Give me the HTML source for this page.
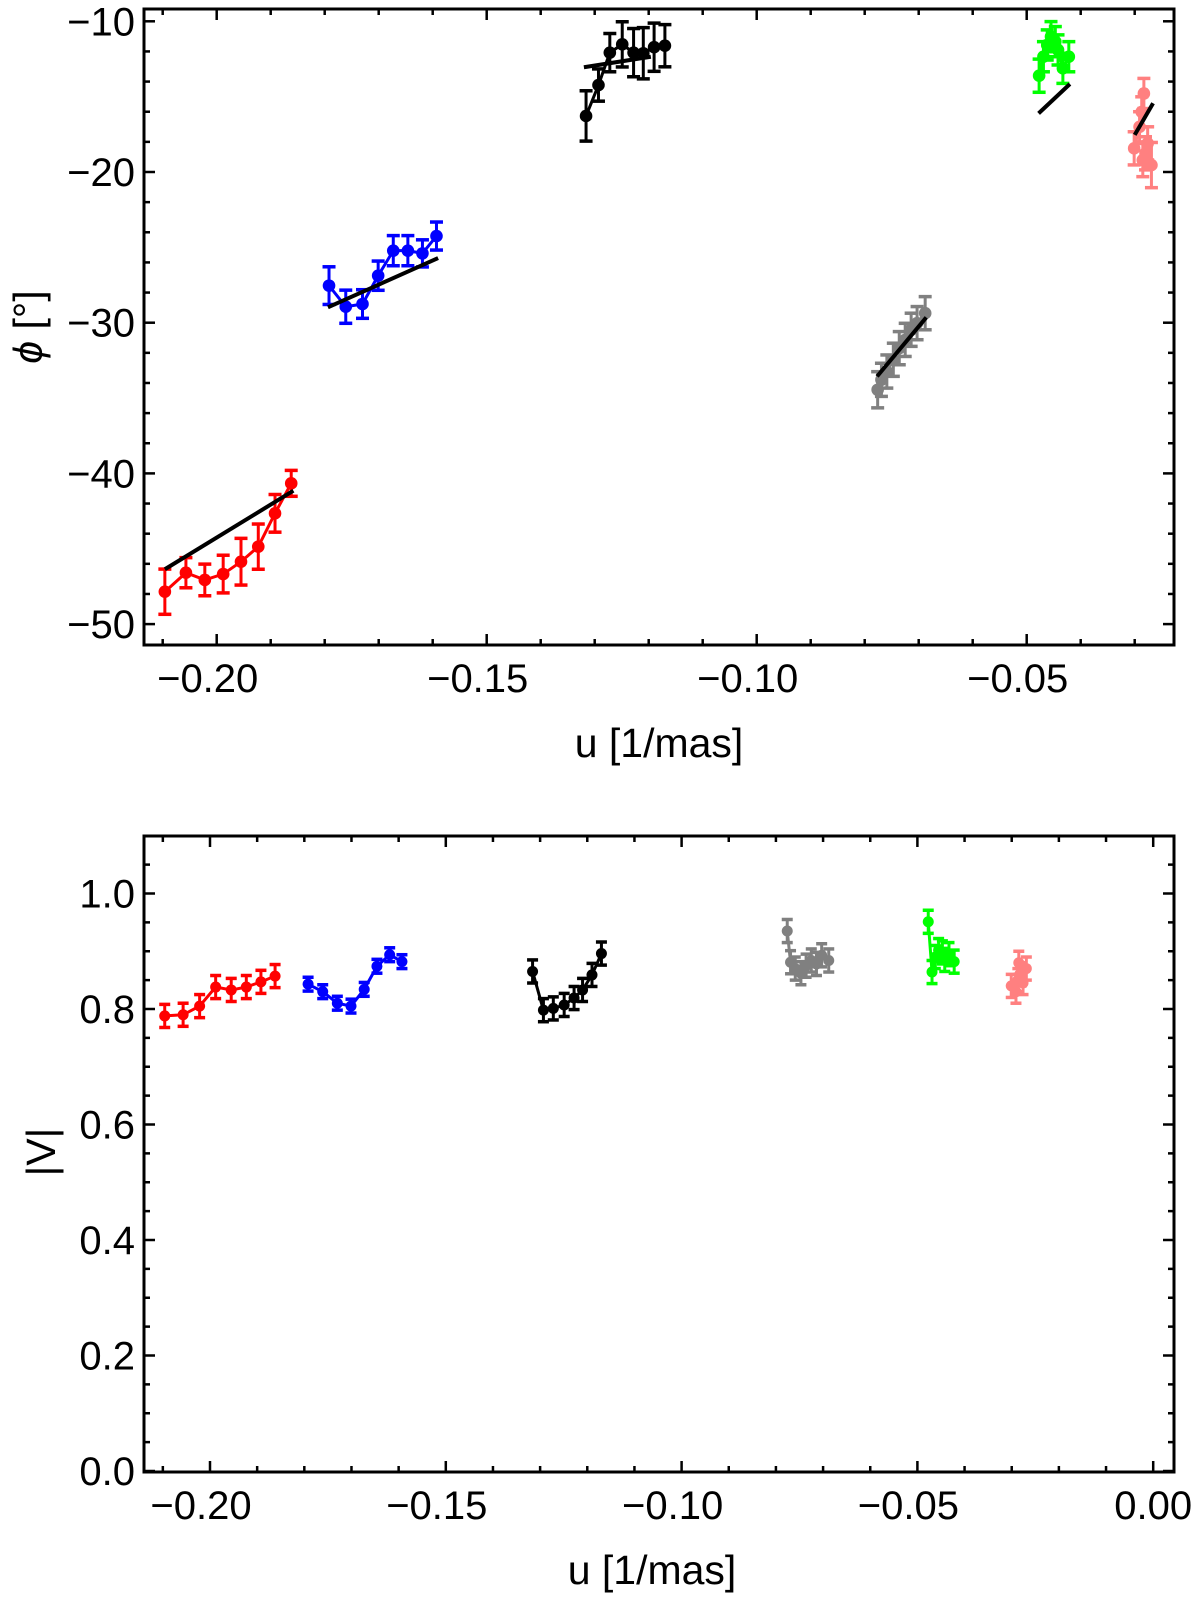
<!DOCTYPE html>
<html><head><meta charset="utf-8"><style>
html,body{margin:0;padding:0;background:#fff;}
svg{display:block;}
text{font-family:"Liberation Sans",sans-serif;fill:#000;}
</style></head><body>
<svg id="fig" width="1200" height="1599" viewBox="0 0 1200 1599" xmlns="http://www.w3.org/2000/svg"></svg>
<script>
// ---- data ----
const uRed   = [-0.2096,-0.2057,-0.2022,-0.1988,-0.1955,-0.1923,-0.1892,-0.1862];
const uBlue  = [-0.1792,-0.1761,-0.1730,-0.1701,-0.1673,-0.1646,-0.1619,-0.1593];
const uBlack = [-0.1316,-0.1293,-0.1272,-0.1249,-0.1228,-0.1210,-0.1190,-0.1170];
const uGrey  = [-0.0776,-0.0769,-0.0759,-0.0747,-0.0736,-0.0725,-0.0714,-0.0703,-0.0688];
const uGreen = [-0.0477,-0.0469,-0.0462,-0.0455,-0.0447,-0.0442,-0.0433,-0.0422];
const uPink  = [-0.0283,-0.0287,-0.0291,-0.0301,-0.0280,-0.0285,-0.0269,-0.0276];

const phiRed   = [-47.85,-46.59,-47.07,-46.68,-45.86,-44.86,-42.65,-40.66];
const phiRedErr= [1.5,1.0,1.05,1.25,1.55,1.5,1.25,0.86];
const phiBlue  = [-27.54,-28.94,-28.76,-26.88,-25.22,-25.22,-25.40,-24.25];
const phiBlueErr=[1.25,1.1,0.95,0.97,1.0,1.0,0.9,0.93];
const phiBlack = [-16.28,-14.23,-12.08,-11.53,-12.08,-12.12,-11.72,-11.62];
const phiBlackErr=[1.67,1.07,1.27,1.5,1.6,1.7,1.6,1.4];
const phiGrey  = [-34.45,-33.79,-33.24,-32.46,-31.69,-31.14,-30.47,-30.03,-29.37];
const phiGreyErr=[1.2,1.1,1.1,1.1,1.1,1.1,1.1,1.1,1.1];
const phiGreen = [-13.61,-12.35,-11.57,-11.02,-11.35,-11.90,-13.12,-12.35];
const phiGreenErr=[1.1,1.0,1.0,1.0,1.0,1.0,1.0,1.0];
const phiPink  = [-14.79,-16.01,-17.00,-18.43,-18.76,-19.21,-19.54,-18.10];
const phiPinkErr=[1.0,1.0,1.0,1.1,1.1,1.1,1.5,1.1];

// linear fits (u0,phi0,u1,phi1)
const fitRed   = [-0.2096,-46.36,-0.1858,-41.15];
const fitBlue  = [-0.1794,-28.98,-0.1590,-25.71];
const fitBlack = [-0.1320,-13.05,-0.1196,-12.35];
const fitGrey  = [-0.0777,-33.56,-0.0686,-29.65];
const fitGreen = [-0.0478,-16.11,-0.0420,-14.16];
const fitPink  = [-0.0300,-17.54,-0.0266,-15.44];

const visRed   = [0.788,0.790,0.805,0.838,0.833,0.838,0.847,0.857];
const visBlue  = [0.843,0.830,0.810,0.805,0.834,0.874,0.894,0.882];
const visBlack = [0.865,0.798,0.801,0.807,0.819,0.833,0.859,0.896];
const visGrey  = [0.935,0.881,0.870,0.862,0.875,0.884,0.878,0.893,0.884];
const visGreen = [0.951,0.864,0.890,0.902,0.898,0.885,0.895,0.882];
const visPink  = [0.860,0.850,0.830,0.840,0.860,0.880,0.870,0.845];
const visErr = 0.02;

const topXTicks = [-0.20,-0.15,-0.10,-0.05];
const topXTickLabels = ["\u22120.20","\u22120.15","\u22120.10","\u22120.05"];
const topYTicks = [-10,-20,-30,-40,-50];
const topYTickLabels = ["\u221210","\u221220","\u221230","\u221240","\u221250"];
const botXTicks = [-0.20,-0.15,-0.10,-0.05,0.00];
const botXTickLabels = ["\u22120.20","\u22120.15","\u22120.10","\u22120.05","0.00"];
const botYTicks = [0,0.2,0.4,0.6,0.8,1.0];
const botYTickLabels = ["0.0","0.2","0.4","0.6","0.8","1.0"];

// ---- layout ----
const NS="http://www.w3.org/2000/svg";
const svg=document.getElementById('fig');
function mk(tag,attrs,parent){const e=document.createElementNS(NS,tag);for(const k in attrs)e.setAttribute(k,attrs[k]);(parent||svg).appendChild(e);return e;}

const L=144,R=1174;
// top panel
const T1=9,B1=645;
const xT=u=>216.7+(u+0.20)*5400;
const yT=v=>21.3+(-10-v)*15.07;
// bottom panel
const T2=836,B2=1472;
const xB=u=>210+(u+0.20)*4716;
const yB=v=>1471-v*577.5;

function frame(top,bottom,name){
  const r=mk('rect',{x:L,y:top,width:R-L,height:bottom-top,fill:'none',stroke:'#000','stroke-width':3});
  
  
}
function xticks(xf,top,bottom,umin,umax,majors,labels,name,labelY){
  const g=mk('g',{});
  
  
  for(let k=Math.ceil(umin*100-1e-6);k<=Math.floor(umax*100+1e-6);k++){
    const u=k/100,x=xf(u),maj=(k%5===0);const len=maj?11:6;
    mk('line',{x1:x,x2:x,y1:bottom,y2:bottom-len,stroke:'#000','stroke-width':2.5},g);
    mk('line',{x1:x,x2:x,y1:top,y2:top+len,stroke:'#000','stroke-width':2.5},g);
  }
  majors.forEach((u,i)=>{
    const t=mk('text',{x:xf(u)-(labels[i][0]==='\u2212'?9:0),y:labelY,'font-size':40,'text-anchor':'middle'},g);
    t.textContent=labels[i];
    
    
  });
}
function yticks(yf,vals,isMajor,majors,labels,name){
  const g=mk('g',{});
  
  
  vals.forEach(v=>{const y=yf(v),len=isMajor(v)?11:6;
    mk('line',{x1:L,x2:L+len,y1:y,y2:y,stroke:'#000','stroke-width':2.5},g);
    mk('line',{x1:R,x2:R-len,y1:y,y2:y,stroke:'#000','stroke-width':2.5},g);});
  majors.forEach((v,i)=>{
    const t=mk('text',{x:135,y:yf(v)+14,'font-size':40,'text-anchor':'end'},g);
    t.textContent=labels[i];
    
    
  });
}
function series(xf,yf,us,vs,errs,color,name,r,cap){
  const g=mk('g',{});
  
  
  const pts=us.map((u,i)=>xf(u)+','+yf(vs[i])).join(' ');
  mk('polyline',{points:pts,fill:'none',stroke:color,'stroke-width':3},g);
  us.forEach((u,i)=>{
    const x=xf(u),e=Array.isArray(errs)?errs[i]:errs;
    const y1=yf(vs[i]-e),y2=yf(vs[i]+e);
    mk('line',{x1:x,x2:x,y1:y1,y2:y2,stroke:color,'stroke-width':3},g);
    mk('line',{x1:x-cap,x2:x+cap,y1:y1,y2:y1,stroke:color,'stroke-width':3.5},g);
    mk('line',{x1:x-cap,x2:x+cap,y1:y2,y2:y2,stroke:color,'stroke-width':3.5},g);
    const c=mk('circle',{cx:x,cy:yf(vs[i]),r:r,fill:color},g);
    
    
  });
}
function fit(f,name){
  const l=mk('line',{x1:xT(f[0]),y1:yT(f[1]),x2:xT(f[2]),y2:yT(f[3]),stroke:'#000','stroke-width':4});
  
  
}

// top panel
const topYAll=[];for(let v=-10;v>=-50;v-=2)topYAll.push(v);
yticks(yT,topYAll,v=>v%10===0,topYTicks,topYTickLabels,'phase-y-axis');
xticks(xT,T1,B1,-0.213,-0.023,topXTicks,topXTickLabels,'phase-x-axis',692);
series(xT,yT,uRed,phiRed,phiRedErr,'#ff0000','phase-red',6.3,6.5);
series(xT,yT,uBlue,phiBlue,phiBlueErr,'#0000ff','phase-blue',6.3,6.5);
series(xT,yT,uBlack,phiBlack,phiBlackErr,'#000000','phase-black',6.3,6.5);
series(xT,yT,uGrey,phiGrey,phiGreyErr,'#808080','phase-grey',6.3,6.5);
series(xT,yT,uGreen,phiGreen,phiGreenErr,'#00ff00','phase-green',6.3,6.5);
series(xT,yT,uPink,phiPink,phiPinkErr,'#ff8080','phase-pink',6.3,6.5);
fit(fitRed,'fit-red');fit(fitBlue,'fit-blue');fit(fitBlack,'fit-black');
fit(fitGrey,'fit-grey');fit(fitGreen,'fit-green');fit(fitPink,'fit-pink');
frame(T1,B1,'phase-plot-frame');
let t=mk('text',{x:659,y:757,'font-size':41,'text-anchor':'middle'});
t.textContent='u [1/mas]';


t=mk('text',{x:0,y:0,'font-size':41,'text-anchor':'middle',transform:'translate(42,327) rotate(-90)'});
t.innerHTML='<tspan font-style="italic">\u03d5</tspan> [\u00b0]';



// bottom panel
const botYAll=[];for(let k=0;k<=21;k++)botYAll.push(k*0.05);
yticks(yB,botYAll,v=>Math.abs(v*5-Math.round(v*5))<1e-6,botYTicks,botYTickLabels,'vis-y-axis');
xticks(xB,T2,B2,-0.213,0.004,botXTicks,botXTickLabels,'vis-x-axis',1519);
series(xB,yB,uRed,visRed,visErr,'#ff0000','vis-red',5.5,5.5);
series(xB,yB,uBlue,visBlue,visErr*0.6,'#0000ff','vis-blue',5.5,5.5);
series(xB,yB,uBlack,visBlack,visErr,'#000000','vis-black',5.5,5.5);
series(xB,yB,uGrey,visGrey,visErr,'#808080','vis-grey',5.5,5.5);
series(xB,yB,uGreen,visGreen,visErr,'#00ff00','vis-green',5.5,5.5);
series(xB,yB,uPink,visPink,visErr,'#ff8080','vis-pink',5.5,5.5);
frame(T2,B2,'vis-plot-frame');
t=mk('text',{x:652,y:1584,'font-size':41,'text-anchor':'middle'});
t.textContent='u [1/mas]';


t=mk('text',{x:0,y:0,'font-size':41,'text-anchor':'middle',transform:'translate(55,1152) rotate(-90)'});
t.textContent='|V|';


</script>
</body></html>
